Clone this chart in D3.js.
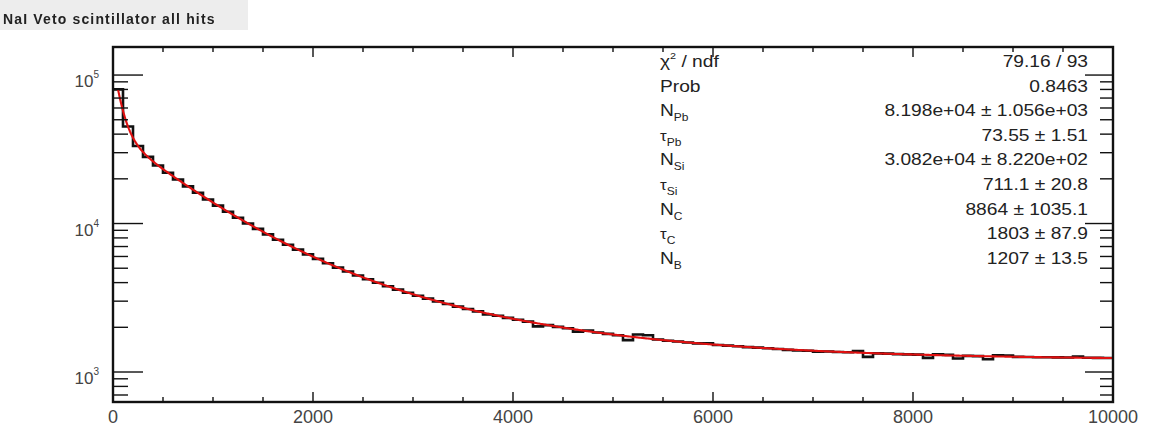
<!DOCTYPE html>
<html>
<head>
<meta charset="utf-8">
<script src="https://cdn.jsdelivr.net/npm/d3@7"></script>
<style>
  html, body { margin: 0; padding: 0; background: #fff; }
  svg { display: block; font-family: "Liberation Sans", Arial, Helvetica, sans-serif; }
</style>
</head>
<body>
<svg id="chart" width="1171" height="431"></svg>
<script>
// Histogram: 100 bins of width 100 over [0, 10000]
const binEdges = [0, 10000];
const binWidth = 100;
const counts = [
  80100, 45000, 33300, 28100, 24600, 22000, 19800, 17800, 16100, 14500,
  13200, 12000, 10950, 10000, 9200, 8450, 7780, 7200, 6670, 6200,
  5780, 5400, 5050, 4750, 4470, 4215, 3990, 3780, 3590, 3420,
  3260, 3120, 2990, 2870, 2755, 2655, 2560, 2440, 2390, 2315,
  2250, 2185, 2030, 2070, 2015, 1970, 1870, 1900, 1845, 1805,
  1770, 1640, 1790, 1770, 1655, 1625, 1605, 1580, 1560, 1560,
  1520, 1505, 1490, 1470, 1460, 1445, 1430, 1410, 1395, 1390,
  1370, 1375, 1365, 1360, 1385, 1265, 1335, 1330, 1320, 1315,
  1310, 1245, 1315, 1305, 1232, 1285, 1280, 1220, 1295, 1290,
  1265, 1262, 1258, 1256, 1254, 1252, 1272, 1247, 1244, 1242
];

// Fit: sum of three exponentials plus a flat background
const fitAmplitudes = [81980, 30820, 8864];   // N_Pb, N_Si, N_C
const fitLifetimes  = [73.55, 711.1, 1803];   // tau_Pb, tau_Si, tau_C
const fitBackground = 1207;                   // N_B
const fitRange = [50, 10000];

// Stats box rows
const statLabels = [
  { main: "χ", sup: "2", rest: " / ndf" },
  { main: "Prob" },
  { main: "N", sub: "Pb" },
  { main: "τ", sub: "Pb" },
  { main: "N", sub: "Si" },
  { main: "τ", sub: "Si" },
  { main: "N", sub: "C" },
  { main: "τ", sub: "C" },
  { main: "N", sub: "B" }
];
const statValues = [
  "79.16 / 93",
  "0.8463",
  "8.198e+04 ± 1.056e+03",
  "73.55 ± 1.51",
  "3.082e+04 ± 8.220e+02",
  "711.1 ± 20.8",
  "8864 ± 1035.1",
  "1803 ± 87.9",
  "1207 ± 13.5"
];

// Axis labels
const xTickValues = [0, 2000, 4000, 6000, 8000, 10000];
const yDecades = [3, 4, 5];
const title = "NaI Veto scintillator all hits";

// ---------------------------------------------------------------
const svg = d3.select("#chart");
const frame = { left: 113, right: 1113, top: 47, bottom: 402 };

const x = d3.scaleLinear().domain(binEdges).range([frame.left, frame.right]);
const y = d3.scaleLog().domain([628, 154500]).range([frame.bottom, frame.top]);

// Title box
const blur = svg.append("defs").append("filter").attr("id", "soft")
  .attr("x", "-5%").attr("y", "-20%").attr("width", "110%").attr("height", "140%");
blur.append("feGaussianBlur").attr("stdDeviation", 0.6);

svg.append("rect").attr("x", 0).attr("y", 0).attr("width", 248).attr("height", 30)
  .attr("fill", "#ededed");
svg.append("text").attr("x", 3).attr("y", 24)
  .attr("font-size", 14).attr("font-weight", "bold").attr("letter-spacing", 1.15)
  .attr("fill", "#222").attr("filter", "url(#soft)")
  .text(title);

// Clip to frame
svg.append("defs").append("clipPath").attr("id", "plotclip")
  .append("rect").attr("x", frame.left).attr("y", frame.top)
  .attr("width", frame.right - frame.left).attr("height", frame.bottom - frame.top);

const plot = svg.append("g").attr("clip-path", "url(#plotclip)");

// Histogram as a step line
const steps = [];
counts.forEach((c, i) => {
  const x0 = binEdges[0] + i * binWidth;
  steps.push([x0, c], [x0 + binWidth, c]);
});
plot.append("path")
  .attr("d", d3.line().x(d => x(d[0])).y(d => y(d[1]))(steps))
  .attr("fill", "none").attr("stroke", "#111").attr("stroke-width", 2.6);

// Fit curve
const fitFn = t => fitBackground + fitAmplitudes.reduce((s, n, k) => s + n * Math.exp(-t / fitLifetimes[k]), 0);
const fitPts = d3.range(fitRange[0], fitRange[1] + 1, 10).map(t => [t, fitFn(t)]);
plot.append("path")
  .attr("d", d3.line().x(d => x(d[0])).y(d => y(d[1]))(fitPts))
  .attr("fill", "none").attr("stroke", "#e01010").attr("stroke-width", 2.1)
  .attr("stroke-linejoin", "round");

// Axes ticks
const axes = svg.append("g").attr("stroke", "#111");
const xMinor = d3.range(binEdges[0], binEdges[1] + 1, 500);
xMinor.forEach(v => {
  const major = xTickValues.includes(v);
  const len = major ? 10 : 5;
  axes.append("line").attr("x1", x(v)).attr("x2", x(v))
    .attr("y1", frame.bottom).attr("y2", frame.bottom - len).attr("stroke-width", 1.4);
  axes.append("line").attr("x1", x(v)).attr("x2", x(v))
    .attr("y1", frame.top).attr("y2", frame.top + len).attr("stroke-width", 1.4);
});

const [yLo, yHi] = y.domain();
d3.range(2, 6).forEach(e => {
  d3.range(1, 10).forEach(m => {
    const v = m * Math.pow(10, e);
    if (v < yLo || v > yHi) return;
    const major = m === 1;
    axes.append("line").attr("x1", frame.left).attr("x2", frame.left + (major ? 30 : 15))
      .attr("y1", y(v)).attr("y2", y(v)).attr("stroke-width", 1.4);
    axes.append("line").attr("x1", frame.right).attr("x2", frame.right - (major ? 28 : 13))
      .attr("y1", y(v)).attr("y2", y(v)).attr("stroke-width", 1.4);
  });
});

// Frame
svg.append("rect").attr("x", frame.left).attr("y", frame.top)
  .attr("width", frame.right - frame.left).attr("height", frame.bottom - frame.top)
  .attr("fill", "none").attr("stroke", "#111").attr("stroke-width", 2.4);

// X tick labels
svg.append("g").selectAll("text").data(xTickValues).join("text")
  .attr("x", d => x(d)).attr("y", 423)
  .attr("text-anchor", "middle").attr("font-size", 18).attr("fill", "#444")
  .text(d => d);

// Y tick labels: 10^n
const yl = svg.append("g").selectAll("text").data(yDecades).join("text")
  .attr("x", 99).attr("y", d => y(Math.pow(10, d)) + 12)
  .attr("text-anchor", "end").attr("font-size", 17).attr("fill", "#444");
yl.append("tspan").text("10");
yl.append("tspan").attr("font-size", 10).attr("dy", -9).text(d => d);

// Stats rows
const rowY = i => 67 + i * 24.6;
const stats = svg.append("g").attr("fill", "#222");
statLabels.forEach((lab, i) => {
  const t = stats.append("text")
    .attr("transform", `translate(660,${rowY(i)}) scale(1.2,1)`)
    .attr("font-size", lab.main === "τ" ? 14 : 16);
  t.append("tspan").text(lab.main);
  if (lab.sup) t.append("tspan").attr("font-size", 9).attr("dy", -8).text(lab.sup);
  if (lab.rest) t.append("tspan").attr("dy", lab.sup ? 8 : 0).text(lab.rest);
  if (lab.sub) t.append("tspan").attr("font-size", 10).attr("dy", 5).text(lab.sub);
});
statValues.forEach((v, i) => {
  stats.append("text")
    .attr("transform", `translate(1088,${rowY(i)}) scale(1.2,1)`)
    .attr("text-anchor", "end").attr("font-size", 16)
    .text(v);
});
</script>
</body>
</html>
